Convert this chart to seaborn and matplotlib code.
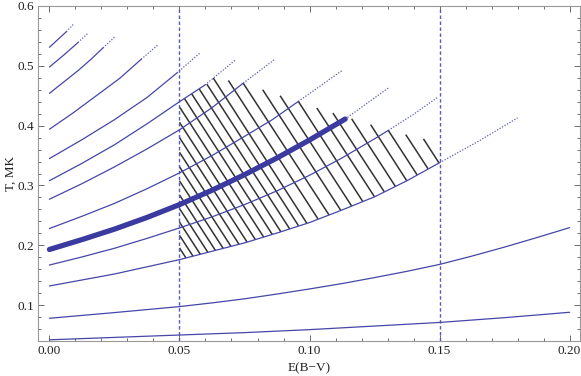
import matplotlib
matplotlib.use("Agg")
import matplotlib.pyplot as plt
import numpy as np
import pandas as pd
import seaborn as sns

# --- curves: E(B-V) points, T [MK], end of solid part ---
c1_x = [0.0, 0.025, 0.05, 0.075, 0.1, 0.125, 0.15, 0.175, 0.2]
c1_T = [0.042, 0.046, 0.050, 0.054, 0.059, 0.065, 0.071, 0.079, 0.088]
c1_solid = 0.2

c2_x = [0.0, 0.025, 0.05, 0.0625, 0.075, 0.0875, 0.1, 0.1125, 0.125, 0.1375,
        0.15, 0.1625, 0.175, 0.1875, 0.2]
c2_T = [0.078, 0.0875, 0.0975, 0.1037, 0.1105, 0.1185, 0.127, 0.136, 0.146, 0.1565,
        0.168, 0.182, 0.197, 0.213, 0.2295]
c2_solid = 0.2

c3_x = [0.0, 0.025, 0.05, 0.0625, 0.075, 0.0875, 0.1, 0.1125, 0.125, 0.1375, 0.15, 0.165, 0.18]
c3_T = [0.132, 0.152, 0.176, 0.190, 0.204, 0.2205, 0.238, 0.259, 0.281, 0.308, 0.338, 0.374, 0.413]
c3_solid = 0.15

c4_x = [0.0, 0.0125, 0.025, 0.0375, 0.05, 0.0625, 0.075, 0.0875, 0.1, 0.1125, 0.125,
        0.1303, 0.14, 0.1495]
c4_T = [0.167, 0.1805, 0.195, 0.2115, 0.229, 0.2475, 0.268, 0.291, 0.317, 0.346, 0.378,
        0.392, 0.419, 0.448]
c4_solid = 0.1303

c5_x = [0.0, 0.0125, 0.025, 0.0375, 0.05, 0.0625, 0.075, 0.0875, 0.1, 0.1137, 0.1303]
c5_T = [0.193, 0.2095, 0.227, 0.2465, 0.268, 0.292, 0.318, 0.346, 0.376, 0.411, 0.463]
c5_solid = 0.1137

c6_x = [0.0, 0.0125, 0.025, 0.0375, 0.05, 0.0625, 0.075, 0.0857, 0.0957, 0.1128]
c6_T = [0.228, 0.2485, 0.270, 0.2945, 0.321, 0.350, 0.382, 0.410, 0.4405, 0.493]
c6_solid = 0.0957

c7_x = [0.0, 0.0125, 0.025, 0.0375, 0.05, 0.0625, 0.0745, 0.0867]
c7_T = [0.277, 0.303, 0.331, 0.361, 0.393, 0.430, 0.471, 0.511]
c7_solid = 0.0745

c8_x = [0.0, 0.0125, 0.025, 0.0375, 0.05, 0.0598, 0.0713]
c8_T = [0.308, 0.337, 0.368, 0.403, 0.440, 0.468, 0.509]
c8_solid = 0.0598

c9_x = [0.0, 0.0125, 0.025, 0.0375, 0.049, 0.058]
c9_T = [0.345, 0.3765, 0.410, 0.447, 0.488, 0.522]
c9_solid = 0.049

c10_x = [0.0, 0.009, 0.0177, 0.027, 0.0353, 0.042]
c10_T = [0.394, 0.421, 0.449, 0.479, 0.511, 0.536]
c10_solid = 0.0353

c11_x = [0.0, 0.0055, 0.011, 0.016, 0.0206, 0.0253]
c11_T = [0.454, 0.473, 0.492, 0.511, 0.530, 0.549]
c11_solid = 0.0206

c12_x = [0.0, 0.0055, 0.011, 0.0148]
c12_T = [0.498, 0.518, 0.539, 0.5545]
c12_solid = 0.011

c13_x = [0.0, 0.0065, 0.0093]
c13_T = [0.531, 0.557, 0.570]
c13_solid = 0.0065

# --- hatch strokes: lower end on the 0.132 curve, upper end on the boundary ---
hatch_bot_x = [0.0525, 0.0552, 0.0580, 0.0609, 0.0638, 0.0668, 0.0698, 0.0729,
               0.0760, 0.0792, 0.0824, 0.0857, 0.0890, 0.0924, 0.0958, 0.0990,
               0.1033, 0.1075, 0.1120, 0.1162, 0.1205, 0.1250, 0.1288, 0.1330,
               0.1374, 0.1414, 0.1456, 0.1498]
hatch_bot_T = [0.1788, 0.1818, 0.1850, 0.1883, 0.1915, 0.1948, 0.1982, 0.2016,
               0.2053, 0.2094, 0.2136, 0.2180, 0.2225, 0.2272, 0.2325, 0.2366,
               0.2438, 0.2507, 0.2585, 0.2656, 0.2730, 0.2810, 0.2890, 0.2985,
               0.3078, 0.3175, 0.3277, 0.3375]
hatch_top_x = [0.05, 0.05, 0.05, 0.05, 0.05, 0.05, 0.05, 0.05,
               0.05, 0.05, 0.05, 0.0519, 0.0547, 0.0576, 0.0605, 0.063,
               0.0688, 0.0745, 0.082, 0.0887, 0.0957, 0.1028, 0.109, 0.1162,
               0.1235, 0.1303, 0.137, 0.1438]
hatch_top_T = [0.1956, 0.2167, 0.2388, 0.2615, 0.2842, 0.3077, 0.3313, 0.3555,
               0.380, 0.4056, 0.4313, 0.4453, 0.4531, 0.4612, 0.4695, 0.4795,
               0.4755, 0.471, 0.460, 0.450, 0.4405, 0.4295, 0.421, 0.4114,
               0.4017, 0.392, 0.385, 0.378]

ebv_limits = [0.05, 0.15]
x_ticks = [0.0, 0.05, 0.10, 0.15, 0.20]
y_ticks = [0.1, 0.2, 0.3, 0.4, 0.5, 0.6]

curves = [
    (c1_x, c1_T, c1_solid), (c2_x, c2_T, c2_solid), (c3_x, c3_T, c3_solid),
    (c4_x, c4_T, c4_solid), (c5_x, c5_T, c5_solid), (c6_x, c6_T, c6_solid),
    (c7_x, c7_T, c7_solid), (c8_x, c8_T, c8_solid), (c9_x, c9_T, c9_solid),
    (c10_x, c10_T, c10_solid), (c11_x, c11_T, c11_solid),
    (c12_x, c12_T, c12_solid), (c13_x, c13_T, c13_solid),
]
THICK = 4  # index of the highlighted curve

sns.set_theme(style="ticks")
plt.rcParams["font.family"] = ["Liberation Serif", "DejaVu Serif"]

fig = plt.figure(figsize=(5.81, 3.76), dpi=100)
ax = fig.add_axes([38 / 581, 1 - 341 / 376, 542 / 581, 335 / 376])

blue = "#4646a8"
dot_blue = "#5c5cb8"

# hatch strokes first, curves drawn over them
for xb, tb, xt, tt in zip(hatch_bot_x, hatch_bot_T, hatch_top_x, hatch_top_T):
    ax.plot([xt, xb], [tt, tb], color="#333333", lw=1.1, solid_capstyle="butt", zorder=2)

for i, (xs, ts, solid_end) in enumerate(curves):
    df = pd.DataFrame({"x": xs, "T": ts})
    solid = df[df["x"] <= solid_end + 1e-9]
    dotted = df[df["x"] >= solid_end - 1e-9]
    lw = 3.8 if i == THICK else 0.9
    col = "#3a3aa0" if i == THICK else blue
    sns.lineplot(data=solid, x="x", y="T", ax=ax, color=col, lw=lw,
                 estimator=None, sort=False, zorder=4)
    if len(dotted) > 1:
        sns.lineplot(data=dotted, x="x", y="T", ax=ax, color=dot_blue, lw=0.9,
                     estimator=None, sort=False, linestyle=(0, (1, 1.3)), zorder=3)

for xv in ebv_limits:
    ax.axvline(xv, color="#5a5ab4", lw=1.0, linestyle=(0, (2.5, 1.8)), zorder=3)

ax.set_xlim(-0.0044, 0.204)
ax.set_ylim(0.0417, 0.6)
ax.set_xticks(x_ticks)
ax.set_xticklabels(["0.00", "0.05", "0.10", "0.15", "0.20"])
ax.set_yticks(y_ticks)
ax.set_yticklabels([f"{v:.1f}" for v in y_ticks])
ax.set_xticks(np.arange(0.0, 0.2041, 0.01), minor=True)
ax.set_yticks(np.arange(0.04, 0.601, 0.02), minor=True)
ax.tick_params(which="both", direction="in", top=True, right=True,
               color="#555555", width=0.6, labelsize=9.5, labelcolor="#222222")
ax.tick_params(which="major", length=4.5, pad=3)
ax.tick_params(which="minor", length=2.5)
for sp in ax.spines.values():
    sp.set_color("#999999")
    sp.set_linewidth(0.8)

ax.set_xlabel("E(B\u2212V)", fontsize=9.5, color="#222222", labelpad=4)
ax.set_ylabel("T, MK", fontsize=9.5, color="#222222")
ax.yaxis.set_label_coords(-0.040, 0.5)

fig.savefig("out.png", dpi=100)
